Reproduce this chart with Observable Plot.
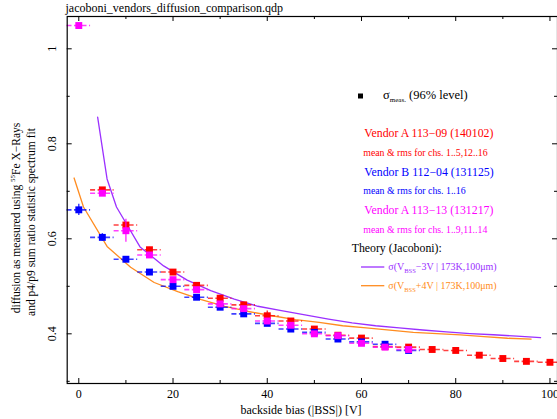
<!DOCTYPE html>
<html><head><meta charset="utf-8">
<script src="https://cdn.jsdelivr.net/npm/d3@7"></script>
<script src="https://cdn.jsdelivr.net/npm/@observablehq/plot@0.6"></script>
<style>body{margin:0;background:#fff} svg{display:block}</style>
</head><body><div id="c"></div>
<script>
// ---- data ----
const biasRed = [5,10,15,20,25,30,35,40,45,50,55,60,65,70,75,80,85,90,95,100];
const diffRed = [0.703,0.629,0.577,0.530,0.502,0.475,0.461,0.438,0.427,0.410,0.397,0.391,0.373,0.372,0.367,0.365,0.355,0.348,0.342,0.340];
const xErrRed = [2.5,2.5,2.5,2.5,2.5,2.5,2.5,2.5,2.5,2.5,2.5,2.5,2.5,2.5,2.5,2.5,2.5,2.5,2.5,2.5];
const yErrRed = [0.004,0.004,0.005,0.004,0.004,0.004,0.004,0.010,0.004,0.004,0.004,0.004,0.004,0.004,0.003,0.003,0.003,0.003,0.003,0.003];

const biasBlue = [0,5,10,15,20,25,30,35,40,45,50,55,60,65,70];
const diffBlue = [0.661,0.603,0.557,0.530,0.500,0.477,0.456,0.442,0.422,0.410,0.403,0.389,0.383,0.378,0.365];
const xErrBlue = [2.5,2.5,2.5,2.5,2.5,2.5,2.5,2.5,2.5,2.5,2.5,2.5,2.5,2.5,2.5];
const yErrBlue = [0.012,0.008,0.004,0.004,0.003,0.003,0.003,0.003,0.003,0.003,0.003,0.003,0.003,0.003,0.003];

const biasMag = [0,5,10,15,20,25,30,35,40,45,50,55,60,65,70];
const diffMag = [1.049,0.696,0.617,0.566,0.514,0.493,0.463,0.453,0.427,0.418,0.400,0.396,0.380,0.372,0.367];
const xErrMag = [2.5,2.5,2.5,2.5,2.5,2.5,2.5,2.5,2.5,2.5,2.5,2.5,2.5,2.5,2.5];
const yErrMag = [0.003,0.004,0.024,0.004,0.004,0.004,0.003,0.003,0.003,0.003,0.003,0.003,0.003,0.003,0.003];

const theoryMinusX = [4,6,8,13,18,23,28,33,38,43,48,53,58,63,68,73,78,83,88,93,98];
const theoryMinusY = [0.856,0.726,0.667,0.583,0.543,0.513,0.491,0.473,0.458,0.449,0.440,0.431,0.423,0.417,0.4126,0.408,0.404,0.4006,0.398,0.395,0.392];
const theoryPlusX = [-1,1,6,11,16,21,26,31,36,41,46,51,56,61,66,71,76,81,86,91,96];
const theoryPlusY = [0.728,0.667,0.584,0.540,0.508,0.489,0.472,0.458,0.447,0.438,0.430,0.424,0.417,0.4126,0.4076,0.403,0.4006,0.3977,0.394,0.3907,0.389];

const xMajor = [0,20,40,60,80,100];
const xMinor = [10,30,50,70,90];
const yMajor = [0.4,0.6,0.8,1];
const yMinor = [0.3,0.5,0.7,0.9];

// ---- styling ----
const W = 557, H = 419;
const mL = 66.7, mR = 0, mT = 16, mB = 36;
const xDom = [-2.46, 101.6];
const yDom = [0.2954, 1.068];
const pxX = (xDom[1]-xDom[0])/(W-mL-mR);
const pxY = (yDom[1]-yDom[0])/(H-mT-mB);
const RED = "#ff0000", BLUE = "#0000ff", MAG = "#ff00ff", PURP = "#9b30ff", ORNG = "#ff8c20";
const FONT = "'Liberation Serif','DejaVu Serif',serif";

const mk = (xs, ys, xe, ye) => xs.map((x,i)=>({x, y: ys[i], xe: xe[i], ye: ye[i]}));
const red = mk(biasRed, diffRed, xErrRed, yErrRed);
const blue = mk(biasBlue, diffBlue, xErrBlue, yErrBlue);
const mag = mk(biasMag, diffMag, xErrMag, yErrMag);
const thM = theoryMinusX.map((x,i)=>({x, y: theoryMinusY[i]}));
const thP = theoryPlusX.map((x,i)=>({x, y: theoryPlusY[i]}));

function series(data, color) {
  return [
    Plot.ruleY(data, {y: "y", x1: d=>d.x-d.xe, x2: d=>d.x+d.xe, stroke: color, strokeWidth: 1.6, strokeOpacity: 0.75, strokeDasharray: "5,2.5"}),
    Plot.ruleX(data, {x: "x", y1: d=>d.y-d.ye, y2: d=>d.y+d.ye, stroke: color, strokeWidth: 1.4, strokeOpacity: 0.8}),
    Plot.dot(data, {x: "x", y: "y", symbol: "square", r: 3.9, fill: color, stroke: "none"})
  ];
}

const chart = Plot.plot({
  width: W, height: H,
  marginLeft: mL, marginRight: mR, marginTop: mT, marginBottom: mB,
  x: {domain: xDom, axis: null},
  y: {domain: yDom, axis: null},
  style: {fontFamily: FONT, fontSize: "12px", background: "white", color: "black", overflow: "visible"},
  marks: [
    Plot.line(thM, {x: "x", y: "y", stroke: PURP, strokeWidth: 1.3}),
    Plot.line(thP, {x: "x", y: "y", stroke: ORNG, strokeWidth: 1.3}),
    ...series(red, RED),
    ...series(blue, BLUE),
    ...series(mag, MAG),
    Plot.frame({stroke: "black", strokeWidth: 1.2}),
    // inward ticks
    Plot.ruleX(xMajor, {x: d=>d, y1: yDom[0], y2: yDom[0]+5*pxY, stroke: "black", strokeWidth: 1}),
    Plot.ruleX(xMinor, {x: d=>d, y1: yDom[0], y2: yDom[0]+3*pxY, stroke: "black", strokeWidth: 1}),
    Plot.ruleX(xMajor, {x: d=>d, y1: yDom[1], y2: yDom[1]-5*pxY, stroke: "black", strokeWidth: 1}),
    Plot.ruleX(xMinor, {x: d=>d, y1: yDom[1], y2: yDom[1]-3*pxY, stroke: "black", strokeWidth: 1}),
    Plot.ruleY(yMajor, {y: d=>d, x1: xDom[0], x2: xDom[0]+5*pxX, stroke: "black", strokeWidth: 1}),
    Plot.ruleY(yMinor, {y: d=>d, x1: xDom[0], x2: xDom[0]+3*pxX, stroke: "black", strokeWidth: 1}),
    Plot.ruleY(yMajor, {y: d=>d, x1: xDom[1], x2: xDom[1]-5*pxX, stroke: "black", strokeWidth: 1}),
    Plot.ruleY(yMinor, {y: d=>d, x1: xDom[1], x2: xDom[1]-3*pxX, stroke: "black", strokeWidth: 1}),
    // tick labels
    Plot.text(xMajor, {frameAnchor: "bottom", x: d=>d, text: d=>String(d), dy: 10.7, lineAnchor: "middle", textAnchor: "middle", fontSize: 12, fill: "black"}),
    Plot.text(yMajor, {frameAnchor: "left", y: d=>d, text: d=>String(d), rotate: -90, dx: -14.7, lineAnchor: "middle", textAnchor: "middle", fontSize: 12, fill: "black"})
  ]
});
document.getElementById("c").appendChild(chart);

// ---- titles, axis labels and legend ----
const svg = d3.select(chart);
const g = svg.append("g").attr("font-family", FONT).attr("fill", "black").attr("text-anchor", "start");
g.append("text").attr("x", 65.5).attr("y", 11.5).attr("font-size", 12).text("jacoboni_vendors_diffusion_comparison.qdp");
g.append("text").attr("x", 301).attr("y", 414).attr("font-size", 12).attr("text-anchor", "middle").text("backside bias (|BSS|) [V]");
const yl1 = g.append("text").attr("transform", "translate(19.5,218) rotate(-90)").attr("font-size", 11.5).attr("text-anchor", "middle");
yl1.append("tspan").text("diffusion as measured using ");
yl1.append("tspan").attr("font-size", 7).attr("dy", -4.5).text("55");
yl1.append("tspan").attr("dy", 4.5).text("Fe X\u2212Rays");
g.append("text").attr("transform", "translate(34.5,222) rotate(-90)").attr("font-size", 11.5).attr("text-anchor", "middle")
  .text("and p4/p9 sum ratio statistic spectrum fit");

// legend
g.append("rect").attr("x", 358).attr("y", 93.5).attr("width", 5).attr("height", 5).attr("fill", "black");
const sm = g.append("text").attr("x", 383).attr("y", 99).attr("font-size", 12.5);
sm.append("tspan").text("\u03c3");
sm.append("tspan").attr("font-size", 7).attr("dy", 2.5).text("meas.");
sm.append("tspan").attr("dy", -2.5).text(" (96% level)");

const vend = [
  {t: "Vendor A 113\u221209 (140102)", s: "mean & rms for chs. 1..5,12..16", c: RED, y: 137},
  {t: "Vendor B 112\u221204 (131125)", s: "mean & rms for chs. 1..16", c: BLUE, y: 175.5},
  {t: "Vendor A 113\u221213 (131217)", s: "mean & rms for chs. 1..9,11..14", c: MAG, y: 214}
];
for (const v of vend) {
  g.append("text").attr("x", 364.3).attr("y", v.y).attr("font-size", 11.8).attr("fill", v.c).text(v.t);
  g.append("text").attr("x", 363.3).attr("y", v.y + 18.5).attr("font-size", 9.8).attr("fill", v.c).text(v.s);
}
g.append("text").attr("x", 351.7).attr("y", 252).attr("font-size", 11.8).text("Theory (Jacoboni):");
const th = [{c: PURP, sign: "\u22123V", y: 267}, {c: ORNG, sign: "+4V", y: 285.7}];
for (const t of th) {
  g.append("line").attr("x1", 361).attr("x2", 384.3).attr("y1", t.y).attr("y2", t.y).attr("stroke", t.c).attr("stroke-width", 1.3);
  const tt = g.append("text").attr("x", 388.3).attr("y", t.y + 3.3).attr("font-size", 10).attr("fill", t.c);
  tt.append("tspan").text("\u03c3(V");
  tt.append("tspan").attr("font-size", 6.5).attr("dy", 2.5).text("BSS");
  tt.append("tspan").attr("dy", -2.5).text(t.sign + " | 173K,100\u03bcm)");
}
</script>
</body></html>
